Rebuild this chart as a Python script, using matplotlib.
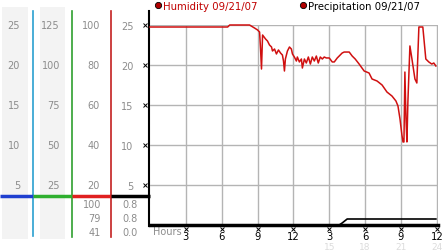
import numpy as np
import matplotlib
matplotlib.use("Agg")
import matplotlib.pyplot as plt

# humidity trace (hours since start, value on the 0-25 scale)
hum_hours = [0.00, 6.50, 6.67, 8.33, 8.75, 9.00, 9.17, 9.25, 9.33, 9.42, 9.67, 9.83,
             10.00, 10.17, 10.25, 10.42, 10.58, 10.75, 10.92, 11.08, 11.17, 11.25, 11.33,
             11.50, 11.67, 11.83, 11.92, 12.08, 12.25, 12.33, 12.50, 12.67, 12.75, 12.92,
             13.08, 13.25, 13.42, 13.58, 13.75, 13.92, 14.08, 14.25, 14.42, 14.58, 14.75,
             15.00, 15.25, 15.42, 15.67, 15.83, 16.08, 16.25, 16.67, 16.92, 17.17, 17.50,
             17.92, 18.33, 18.58, 19.00, 19.42, 19.83, 20.25, 20.58, 20.75, 20.92, 21.08,
             21.17, 21.25, 21.33, 21.42, 21.50, 21.58, 21.75, 21.92, 22.17, 22.33, 22.50,
             22.83, 23.08, 23.33, 23.58, 23.75, 23.92]
hum_vals = [24.75, 24.75, 25.0, 25.0, 24.62, 24.38, 24.12, 22.0, 19.5, 23.75, 23.25, 23.0,
            22.5, 22.25, 21.75, 22.0, 21.38, 21.88, 21.5, 21.25, 20.5, 19.25, 20.75,
            21.75, 22.25, 22.0, 21.38, 21.0, 20.5, 21.0, 20.38, 20.75, 19.62, 20.75,
            20.25, 21.0, 20.12, 21.0, 20.5, 21.12, 20.25, 21.0, 20.75, 21.0, 20.88,
            20.88, 20.38, 20.38, 20.88, 21.12, 21.5, 21.62, 21.62, 21.12, 20.75, 20.12,
            19.25, 19.0, 18.25, 18.0, 17.5, 16.62, 16.12, 15.5, 14.88, 13.25, 11.25,
            10.38, 10.38, 19.12, 13.25, 10.38, 15.38, 22.38, 20.75, 18.25, 17.75, 24.75,
            24.75, 20.75, 20.38, 20.12, 20.25, 19.88]

# precipitation trace
pre_hours = [0.0, 15.83, 16.08, 16.5, 23.92]
pre_vals = [0.0, 0.0, 0.25, 0.75, 0.75]

x_ticks = [3, 6, 9, 12, 15, 18, 21, 24]
x_labels = ["3", "6", "9", "12", "3", "6", "9", "12"]
x_faint = {15: "15", 18: "18", 21: "21", 24: "24"}
y_ticks = [5, 10, 15, 20, 25]

# left scale columns
col1 = ["25", "20", "15", "10", "5"]
col2 = ["125", "100", "75", "50", "25"]
col3 = ["100", "80", "60", "40", "20"]
col3_extra = ["100", "79", "41"]
col4_extra = ["0.8", "0.8", "0.0"]

W, H = 442, 253
fig = plt.figure(figsize=(W / 100, H / 100), dpi=100)

# overlay in pixel coordinates for the side panel
ov = fig.add_axes([0, 0, 1, 1])
ov.set_xlim(0, W)
ov.set_ylim(H, 0)
ov.axis("off")

ax = fig.add_axes([150 / W, (H - 226) / H, 288 / W, 200 / H])
ax.set_facecolor("none")
ax.set_xlim(0, 24.1)
ax.set_ylim(0, 25)

grey = "#8c8c8c"
fs = 7

# side panel
for x0, x1 in [(2, 28), (40, 65)]:
    ov.add_patch(plt.Rectangle((x0, 8), x1 - x0, 232, color="#f3f3f3", lw=0, zorder=0))
ov.plot([33, 33], [12, 237], color="#2a9fd0", lw=1.2)
ov.plot([72, 72], [12, 238], color="#2fa02f", lw=1.2)
ov.plot([111, 111], [12, 238], color="#c42020", lw=1.2)
ov.plot([149, 149], [12, 227], color="black", lw=1.5)
ov.plot([0, 33], [197, 197], color="#1f3fd0", lw=2.5, solid_capstyle="butt")
ov.plot([33, 72], [197, 197], color="#2faf2f", lw=2.5, solid_capstyle="butt")
ov.plot([72, 111], [197, 197], color="#e02020", lw=2.5, solid_capstyle="butt")
ov.plot([111, 150], [197, 197], color="black", lw=2.5, solid_capstyle="butt")

row_y = [26, 66, 106, 146, 186]
for i, y in enumerate(row_y):
    ov.text(20, y, col1[i], color=grey, fontsize=fs, ha="right", va="center")
    ov.text(60, y, col2[i], color=grey, fontsize=fs, ha="right", va="center")
    ov.text(100, y, col3[i], color=grey, fontsize=fs, ha="right", va="center")
for i, y in enumerate([205, 219, 233]):
    ov.text(101, y, col3_extra[i], color=grey, fontsize=fs, ha="right", va="center")
    ov.text(138, y, col4_extra[i], color=grey, fontsize=fs, ha="right", va="center")

# legend
ov.plot(158, 6, "o", ms=4.5, mfc="#b00000", mec="black", mew=0.6)
ov.text(163, 6.5, "Humidity 09/21/07", color="#c00000", fontsize=7.3, va="center")
ov.plot(303, 6, "o", ms=4.5, mfc="#b00000", mec="black", mew=0.6)
ov.text(308, 6.5, "Precipitation 09/21/07", color="black", fontsize=7.3, va="center")
ov.text(153, 232, "Hours", color=grey, fontsize=fs, va="center")

# main plot
ax.grid(True, color="#b4b4b4", lw=1)
ax.set_xticks(x_ticks)
ax.set_yticks(y_ticks)
ax.set_xticklabels(x_labels, fontsize=7.2)
ax.set_yticklabels([str(v) for v in y_ticks], fontsize=fs, color=grey)
ax.tick_params(axis="x", length=0, pad=4)
ax.tick_params(axis="y", length=0, pad=12)
for s in ["top", "right", "left"]:
    ax.spines[s].set_visible(False)
ax.spines["bottom"].set_linewidth(2.5)
ax.spines["bottom"].set_color("black")

ax.plot(x_ticks, [-0.55] * len(x_ticks), "x", ms=2.5, mew=0.7, color="black", clip_on=False)
ax.plot([-0.4] * len(y_ticks), y_ticks, "x", ms=2.5, mew=0.7, color="black", clip_on=False)
for h, lab in x_faint.items():
    ax.text(h, -2.75, lab, color="#dcdcdc", fontsize=6.5, ha="center", va="center")

ax.plot(hum_hours, hum_vals, color="#d01010", lw=1.1, zorder=3, clip_on=False)
ax.plot(pre_hours, pre_vals, color="black", lw=1.2, zorder=3, clip_on=False)

fig.savefig("out.png", dpi=100)
